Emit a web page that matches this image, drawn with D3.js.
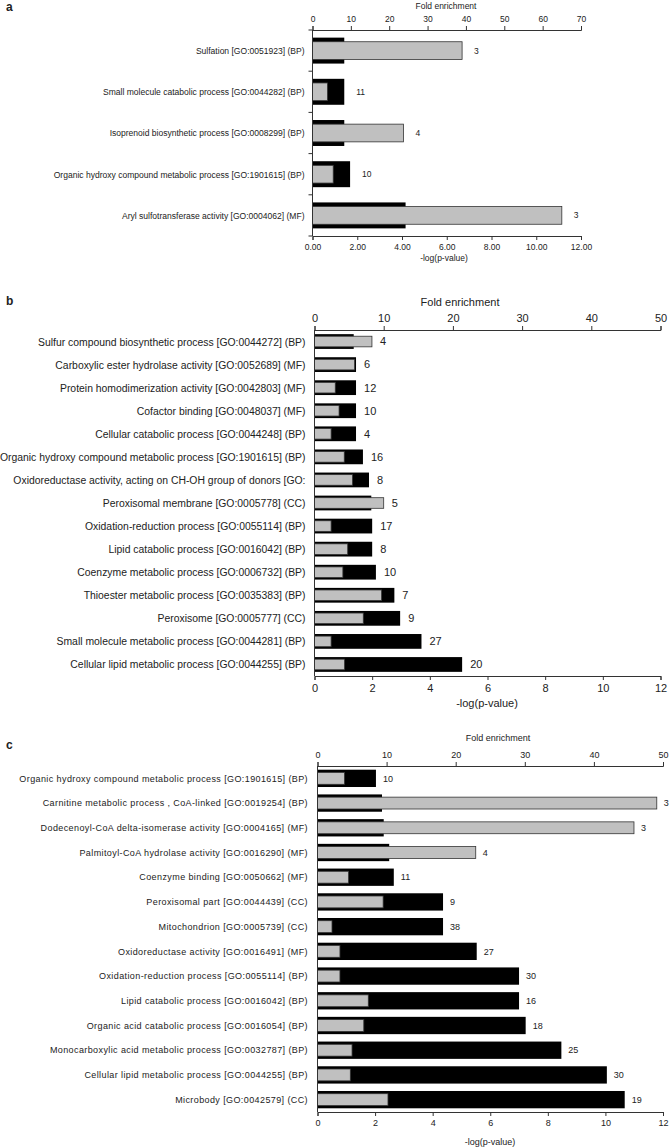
<!DOCTYPE html>
<html>
<head>
<meta charset="utf-8">
<script src="https://cdn.jsdelivr.net/npm/d3@7"></script>
<style>
  body { margin: 0; background: #fff; }
  svg text { font-family: "Liberation Sans", Arial, sans-serif; fill: #222; }
  .letter { font-weight: bold; }
</style>
</head>
<body>
<svg id="chart" width="670" height="1147"></svg>
<script>
// ---- panel a ----
var aTerms = [
  "Sulfation [GO:0051923] (BP)",
  "Small molecule catabolic process [GO:0044282] (BP)",
  "Isoprenoid biosynthetic process [GO:0008299] (BP)",
  "Organic hydroxy compound metabolic process [GO:1901615] (BP)",
  "Aryl sulfotransferase activity  [GO:0004062] (MF)"
];
var aLogP = [1.42, 1.42, 1.42, 1.68, 4.16];
var aFold = [39.0, 3.9, 23.7, 5.4, 65.0];
var aCount = [3, 11, 4, 10, 3];
var aFoldTicks = [0, 10, 20, 30, 40, 50, 60, 70];
var aLogTicks = [0, 2, 4, 6, 8, 10, 12];

// ---- panel b ----
var bTerms = [
  "Sulfur compound biosynthetic process [GO:0044272] (BP)",
  "Carboxylic ester hydrolase activity [GO:0052689] (MF)",
  "Protein homodimerization activity [GO:0042803] (MF)",
  "Cofactor binding [GO:0048037] (MF)",
  "Cellular catabolic process [GO:0044248] (BP)",
  "Organic hydroxy compound metabolic process [GO:1901615] (BP)",
  "Oxidoreductase activity, acting on CH-OH group of donors [GO:",
  "Peroxisomal membrane [GO:0005778] (CC)",
  "Oxidation-reduction process [GO:0055114] (BP)",
  "Lipid catabolic process [GO:0016042] (BP)",
  "Coenzyme metabolic process [GO:0006732] (BP)",
  "Thioester metabolic process [GO:0035383] (BP)",
  "Peroxisome [GO:0005777] (CC)",
  "Small molecule metabolic process [GO:0044281] (BP)",
  "Cellular lipid metabolic process [GO:0044255] (BP)"
];
var bLogP = [1.36, 1.44, 1.44, 1.44, 1.44, 1.68, 1.89, 1.97, 2.0, 2.0, 2.13, 2.77, 2.97, 3.71, 5.12];
var bFold = [8.3, 5.8, 3.0, 3.55, 2.4, 4.3, 5.5, 10.0, 2.4, 4.8, 4.1, 9.7, 7.05, 2.4, 4.35];
var bCount = [4, 6, 12, 10, 4, 16, 8, 5, 17, 8, 10, 7, 9, 27, 20];
var bFoldTicks = [0, 10, 20, 30, 40, 50];
var bLogTicks = [0, 2, 4, 6, 8, 10, 12];

// ---- panel c ----
var cTerms = [
  "Organic hydroxy compound metabolic process [GO:1901615] (BP)",
  "Carnitine metabolic process , CoA-linked [GO:0019254] (BP)",
  "Dodecenoyl-CoA delta-isomerase activity [GO:0004165] (MF)",
  "Palmitoyl-CoA hydrolase activity [GO:0016290] (MF)",
  "Coenzyme binding [GO:0050662] (MF)",
  "Peroxisomal part [GO:0044439] (CC)",
  "Mitochondrion [GO:0005739] (CC)",
  "Oxidoreductase activity [GO:0016491] (MF)",
  "Oxidation-reduction process [GO:0055114] (BP)",
  "Lipid catabolic process  [GO:0016042] (BP)",
  "Organic acid catabolic process [GO:0016054] (BP)",
  "Monocarboxylic acid metabolic process [GO:0032787] (BP)",
  "Cellular lipid metabolic process  [GO:0044255] (BP)",
  "Microbody [GO:0042579] (CC)"
];
var cLogP = [2.03, 2.24, 2.30, 2.49, 2.65, 4.36, 4.36, 5.53, 7.0, 7.0, 7.23, 8.47, 10.05, 10.67];
var cFold = [3.9, 49.1, 45.8, 22.9, 4.5, 9.5, 2.1, 3.25, 3.25, 7.35, 6.7, 5.0, 4.75, 10.2];
var cCount = [10, 3, 3, 4, 11, 9, 38, 27, 30, 16, 18, 25, 30, 19];
var cFoldTicks = [0, 10, 20, 30, 40, 50];
var cLogTicks = [0, 2, 4, 6, 8, 10, 12];

var svg = d3.select("#chart");

function drawPanel(p)
{
	var g = svg.append("g");
	var n = p.terms.length;
	var rows = d3.range(n);

	var xFold = d3.scaleLinear().domain([0, p.foldTicks[p.foldTicks.length - 1]]).range([p.x0, p.x1]);
	var xLog = d3.scaleLinear().domain([0, p.logTicks[p.logTicks.length - 1]]).range([p.x0, p.x1]);
	var y = d3.scaleBand().domain(rows).range([p.top, p.bottom]);
	var bw = y.bandwidth();

	// panel letter + axis titles
	g.append("text").attr("class", "letter").attr("x", 6).attr("y", p.letterY)
		.attr("font-size", 12).text(p.letter);
	g.append("text").attr("x", p.foldTitleX).attr("y", p.foldTitleY)
		.attr("text-anchor", "middle").attr("font-size", p.titleSize).text("Fold enrichment");
	g.append("text").attr("x", p.logTitleX).attr("y", p.logTitleY)
		.attr("text-anchor", "middle").attr("font-size", p.titleSize).text("-log(p-value)");

	// black bars: -log(p-value)
	g.selectAll(".pbar").data(rows).enter().append("rect")
		.attr("x", p.x0)
		.attr("y", function (i) { return y(i) + bw * (1 - p.blackH) / 2; })
		.attr("width", function (i) { return xLog(p.logp[i]) - p.x0; })
		.attr("height", bw * p.blackH)
		.attr("fill", "#000");

	// grey bars: fold enrichment
	g.selectAll(".fbar").data(rows).enter().append("rect")
		.attr("x", p.x0)
		.attr("y", function (i) { return y(i) + bw * (1 - p.grayH) / 2; })
		.attr("width", function (i) { return xFold(p.fold[i]) - p.x0; })
		.attr("height", bw * p.grayH)
		.attr("fill", "#c0c0c0")
		.attr("stroke", "#333")
		.attr("stroke-width", 0.8);

	// gene counts at bar end
	g.selectAll(".cnt").data(rows).enter().append("text")
		.attr("x", function (i) { return Math.max(xLog(p.logp[i]), xFold(p.fold[i])) + p.countGap; })
		.attr("y", function (i) { return y(i) + bw / 2; })
		.attr("dy", "0.35em")
		.attr("font-size", p.countSize)
		.text(function (i) { return p.count[i]; });

	// category labels (squeezed a little, the original uses a narrow face)
	g.selectAll(".lab").data(rows).enter().append("text")
		.attr("transform", function (i)
		{
			return "translate(" + (p.x0 - p.labelGap) + "," + (y(i) + bw / 2) + ") scale(" + p.labelSx + ",1)";
		})
		.attr("dy", "0.35em")
		.attr("text-anchor", "end")
		.attr("font-size", p.labelSize)
		.attr("letter-spacing", p.labelSpacing)
		.text(function (i) { return p.terms[i]; });

	// axes
	var top = g.append("g").attr("transform", "translate(0," + p.top + ")")
		.call(d3.axisTop(xFold).tickValues(p.foldTicks).tickSize(4).tickSizeOuter(4));
	var bot = g.append("g").attr("transform", "translate(0," + p.bottom + ")")
		.call(d3.axisBottom(xLog).tickValues(p.logTicks).tickSize(4).tickSizeOuter(4)
			.tickFormat(d3.format(p.logFormat)));
	[top, bot].forEach(function (ax)
	{
		ax.select(".domain").attr("stroke", "#333");
		ax.selectAll(".tick line").attr("stroke", "#333");
		ax.selectAll(".tick text").attr("font-size", p.tickSize).attr("fill", "#222")
			.attr("font-family", null);
	});
	top.selectAll(".tick text").attr("dy", "0em").attr("y", -p.tickPad);
	bot.selectAll(".tick text").attr("y", p.tickPad);

	// left axis line
	g.append("line").attr("x1", p.x0).attr("x2", p.x0)
		.attr("y1", p.top).attr("y2", p.bottom).attr("stroke", "#333");
	if (p.leftTicks)
	{
		g.selectAll(".lt").data(d3.range(n + 1)).enter().append("line")
			.attr("x1", p.x0 - 4).attr("x2", p.x0)
			.attr("y1", function (i) { return p.top + i * bw; })
			.attr("y2", function (i) { return p.top + i * bw; })
			.attr("stroke", "#333");
	}
}

drawPanel({
	letter: "a", letterY: 11,
	terms: aTerms, logp: aLogP, fold: aFold, count: aCount,
	foldTicks: aFoldTicks, logTicks: aLogTicks, logFormat: ".2f",
	x0: 312.5, x1: 581, top: 30, bottom: 236,
	foldTitleX: 446, foldTitleY: 9, logTitleX: 444, logTitleY: 261,
	titleSize: 8.5, tickSize: 8.5, countSize: 8.5,
	labelSize: 9.5, labelSx: 0.9, labelSpacing: 0, labelGap: 8,
	tickPad: 8, countGap: 12, blackH: 0.63, grayH: 0.43, leftTicks: true
});

drawPanel({
	letter: "b", letterY: 305,
	terms: bTerms, logp: bLogP, fold: bFold, count: bCount,
	foldTicks: bFoldTicks, logTicks: bLogTicks, logFormat: "d",
	x0: 314.5, x1: 660.5, top: 330, bottom: 676,
	foldTitleX: 460, foldTitleY: 306, logTitleX: 487, logTitleY: 707,
	titleSize: 11, tickSize: 11, countSize: 11,
	labelSize: 11.5, labelSx: 0.905, labelSpacing: 0, labelGap: 9,
	tickPad: 8, countGap: 8, blackH: 0.64, grayH: 0.46, leftTicks: false
});

drawPanel({
	letter: "c", letterY: 749,
	terms: cTerms, logp: cLogP, fold: cFold, count: cCount,
	foldTitleX: 498, foldTitleY: 741, logTitleX: 490, logTitleY: 1145,
	foldTicks: cFoldTicks, logTicks: cLogTicks, logFormat: "d",
	x0: 317.5, x1: 663, top: 766, bottom: 1112,
	titleSize: 9, tickSize: 9, countSize: 9,
	labelSize: 9, labelSx: 1, labelSpacing: 0.4, labelGap: 9.5,
	tickPad: 8, countGap: 7, blackH: 0.7, grayH: 0.48, leftTicks: false
});
</script>
</body>
</html>
